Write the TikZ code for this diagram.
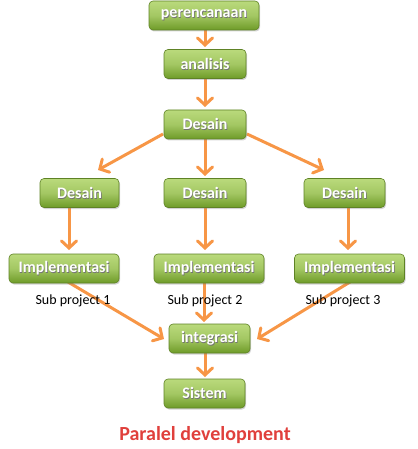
\documentclass[tikz,border=0pt]{standalone}
\usepackage{fontspec}
\setmainfont{Carlito}
\usetikzlibrary{arrows.meta,shadows,backgrounds}
\definecolor{gtop}{HTML}{BADA7C}
\definecolor{gbot}{HTML}{6E9B28}
\definecolor{gedge}{HTML}{5E8225}
\definecolor{arr}{HTML}{F79646}
\definecolor{ttl}{HTML}{E0403C}
\newcommand\shtx[1]{\rlap{\kern0.7pt\raisebox{-0.9pt}{\textcolor{black!55}{#1}}}#1}
\tikzset{
  box/.style={draw=gedge, line width=0.6pt, rounded corners=4pt,
    top color=gtop, bottom color=gbot, middle color=gtop!70!gbot,
    minimum height=29pt, inner sep=0pt, text=white,
    font=\bfseries\fontsize{16}{18}\selectfont,
    drop shadow={shadow xshift=1pt, shadow yshift=-1.5pt, opacity=0.35}},
  conn/.style={draw=arr, line width=3pt,
    -{Straight Barb[length=7pt,width=15pt,line width=3pt,line cap=round]}},
  sub/.style={font=\fontsize{14}{16}\selectfont, inner sep=0pt},
}
\begin{document}
\begin{tikzpicture}[x=1pt,y=-1pt]
\useasboundingbox (0,0) rectangle (417,449);
% boxes
\node[box, minimum width=110pt] (per) at (204,15.5) {\shtx{perencanaan}};
\node[box, minimum width=82pt] (ana) at (205,64) {\shtx{analisis}};
\node[box, minimum width=82pt] (des) at (205,124.5) {\shtx{Desain}};
\node[box, minimum width=79pt] (d1) at (79.5,193) {\shtx{Desain}};
\node[box, minimum width=82pt] (d2) at (205,193) {\shtx{Desain}};
\node[box, minimum width=81pt] (d3) at (344.5,193) {\shtx{Desain}};
\node[box, minimum width=110pt] (i1) at (64,268.5) {\shtx{Implementasi}};
\node[box, minimum width=110pt] (i2) at (209,268.5) {\shtx{Implementasi}};
\node[box, minimum width=110pt] (i3) at (349.5,268.5) {\shtx{Implementasi}};
\node[sub] (s1) at (73,301) {Sub project 1};
\node[sub] (s2) at (205,301) {Sub project 2};
\node[sub] (s3) at (343,301) {Sub project 3};
\node[box, minimum width=81pt] (int) at (209.5,338.5) {\shtx{integrasi}};
\node[box, minimum width=81pt] (sis) at (204.5,393.5) {\shtx{Sistem}};
\node[text=ttl, font=\bfseries\fontsize{20}{22}\selectfont] (title) at (205,435) {Paralel development};
% connector end points
\coordinate (a1) at (205,28);
\coordinate (a1e) at (205,47);
\coordinate (a2) at (205,76);
\coordinate (a2e) at (205,107);
\coordinate (b0) at (163,134);
\coordinate (b1) at (98,170);
\coordinate (b2) at (205,136);
\coordinate (b2e) at (205,176);
\coordinate (b3) at (247,134);
\coordinate (b3e) at (324,170);
\coordinate (c1) at (69,205);
\coordinate (c1e) at (69,250);
\coordinate (c2) at (205,205);
\coordinate (c2e) at (205,250);
\coordinate (c3) at (348,205);
\coordinate (c3e) at (348,250);
\coordinate (e1) at (68,282);
\coordinate (e1e) at (164,339);
\coordinate (e2) at (204,280);
\coordinate (e2e) at (204,322);
\coordinate (e3) at (350,282);
\coordinate (e3e) at (257,339);
\coordinate (f1) at (205,350);
\coordinate (f1e) at (205,377);
\begin{scope}[on background layer]
\draw[conn] (a1) -- (a1e);
\draw[conn] (a2) -- (a2e);
\draw[conn] (b0) -- (b1);
\draw[conn] (b2) -- (b2e);
\draw[conn] (b3) -- (b3e);
\draw[conn] (c1) -- (c1e);
\draw[conn] (c2) -- (c2e);
\draw[conn] (c3) -- (c3e);
\draw[conn] (e1) -- (e1e);
\draw[conn] (e2) -- (e2e);
\draw[conn] (e3) -- (e3e);
\draw[conn] (f1) -- (f1e);
\end{scope}
\end{tikzpicture}
\end{document}
